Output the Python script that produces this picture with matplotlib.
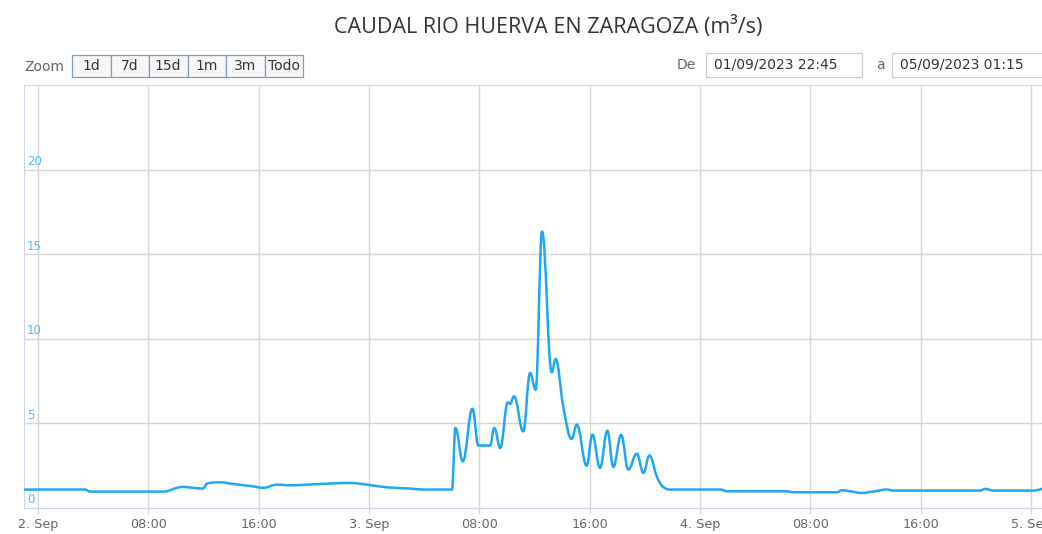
import numpy as np
import pandas as pd
import matplotlib
matplotlib.use('Agg')
import matplotlib.pyplot as plt
import matplotlib.dates as mdates
from matplotlib.patches import Rectangle, PathPatch
from matplotlib.path import Path

W, H = 1042, 534

# caudal (m3/s)
times = [
    '2023-09-01 22:45', '2023-09-02 03:25', '2023-09-02 03:45', '2023-09-02 09:04',
    '2023-09-02 10:30', '2023-09-02 11:15', '2023-09-02 11:58', '2023-09-02 12:14',
    '2023-09-02 13:12', '2023-09-02 14:08', '2023-09-02 15:35', '2023-09-02 16:19',
    '2023-09-02 17:20', '2023-09-02 18:16', '2023-09-02 19:56', '2023-09-02 22:37',
    '2023-09-02 23:51', '2023-09-03 01:18', '2023-09-03 02:59', '2023-09-03 03:55',
    '2023-09-03 06:01', '2023-09-03 06:16', '2023-09-03 06:48', '2023-09-03 07:30',
    '2023-09-03 07:56', '2023-09-03 08:47', '2023-09-03 09:05', '2023-09-03 09:31',
    '2023-09-03 10:04', '2023-09-03 10:14', '2023-09-03 10:31', '2023-09-03 11:11',
    '2023-09-03 11:41', '2023-09-03 12:05', '2023-09-03 12:33', '2023-09-03 13:15',
    '2023-09-03 13:32', '2023-09-03 14:05', '2023-09-03 14:42', '2023-09-03 15:04',
    '2023-09-03 15:47', '2023-09-03 16:12', '2023-09-03 16:45', '2023-09-03 17:17',
    '2023-09-03 17:43', '2023-09-03 18:17', '2023-09-03 18:48', '2023-09-03 19:25',
    '2023-09-03 19:54', '2023-09-03 20:20', '2023-09-03 20:52', '2023-09-03 21:14',
    '2023-09-03 21:35', '2023-09-03 21:50', '2023-09-04 01:30', '2023-09-04 01:58',
    '2023-09-04 06:20', '2023-09-04 06:45',
    '2023-09-04 09:56', '2023-09-04 10:18', '2023-09-04 10:53', '2023-09-04 11:45',
    '2023-09-04 12:33', '2023-09-04 13:34', '2023-09-04 14:00', '2023-09-04 20:19',
    '2023-09-04 20:40', '2023-09-04 21:15', '2023-09-05 00:09', '2023-09-05 01:15',
]
caudal = [
    1.09, 1.09, 0.97, 0.97,
    1.25, 1.19, 1.15, 1.44,
    1.52, 1.42, 1.28, 1.19,
    1.38, 1.34, 1.40, 1.48,
    1.38, 1.22, 1.15, 1.09,
    1.09, 4.73, 2.76, 5.87,
    3.69, 3.69, 4.73, 3.55,
    6.24, 6.15, 6.60, 4.53,
    7.98, 6.99, 16.34, 8.02,
    8.81, 6.00, 4.08, 4.93,
    2.50, 4.34, 2.37, 4.57,
    2.43, 4.32, 2.27, 3.21,
    2.07, 3.10, 1.87, 1.32,
    1.13, 1.09, 1.09, 0.99,
    0.99, 0.93,
    0.93, 1.05, 0.99, 0.89,
    0.97, 1.09, 1.03, 1.03,
    1.13, 1.03, 1.03, 1.25,
]

tick_times = pd.date_range('2023-09-02 00:00', '2023-09-05 00:00', freq='8h')
tick_labels = ['2. Sep', '08:00', '16:00', '3. Sep', '08:00', '16:00',
               '4. Sep', '08:00', '16:00', '5. Sep']
y_ticks = [0, 5, 10, 15, 20]


def spline_path(xs, ys, smoothing=1.5):
    # curva tipo "spline" de highcharts: beziers entre los puntos medidos
    n = len(xs)
    lc = [(xs[0], ys[0])] * n
    rc = [(xs[-1], ys[-1])] * n
    for i in range(n):
        if i == 0 or i == n - 1:
            lc[i] = rc[i] = (xs[i], ys[i])
            continue
        d = smoothing + 1
        lx = (smoothing * xs[i] + xs[i - 1]) / d
        ly = (smoothing * ys[i] + ys[i - 1]) / d
        rx = (smoothing * xs[i] + xs[i + 1]) / d
        ry = (smoothing * ys[i] + ys[i + 1]) / d
        if rx != lx:
            corr = ((ry - ly) * (rx - xs[i])) / (rx - lx) + ys[i] - ry
            ly += corr
            ry += corr
        if ly > max(ys[i - 1], ys[i]):
            ly = max(ys[i - 1], ys[i])
            ry = 2 * ys[i] - ly
        elif ly < min(ys[i - 1], ys[i]):
            ly = min(ys[i - 1], ys[i])
            ry = 2 * ys[i] - ly
        if ry > max(ys[i + 1], ys[i]):
            ry = max(ys[i + 1], ys[i])
            ly = 2 * ys[i] - ry
        elif ry < min(ys[i + 1], ys[i]):
            ry = min(ys[i + 1], ys[i])
            ly = 2 * ys[i] - ry
        lc[i] = (lx, ly)
        rc[i] = (rx, ry)
    verts = [(xs[0], ys[0])]
    codes = [Path.MOVETO]
    for i in range(1, n):
        verts += [rc[i - 1], lc[i], (xs[i], ys[i])]
        codes += [Path.CURVE4] * 3
    return Path(verts, codes)


t = mdates.date2num(pd.to_datetime(times))

fig = plt.figure(figsize=(W / 100, H / 100), dpi=100)


def fx(x):
    return x / W


def fy(y):
    return 1 - y / H


ax = fig.add_axes([fx(24), fy(508), fx(1042) - fx(24), fy(85) - fy(508)])
ax.add_patch(PathPatch(spline_path(list(t), caudal), fill=False, edgecolor='#1ea7f5',
                       lw=1.8, joinstyle='round', zorder=3))

ax.xaxis_date()
ax.set_xlim(pd.Timestamp('2023-09-01 22:59'), pd.Timestamp('2023-09-05 00:48'))
ax.set_ylim(0, 25)
ax.set_xticks(tick_times)
ax.set_xticklabels(tick_labels)
ax.set_yticks([5, 10, 15, 20, 25])
ax.set_yticklabels([])
ax.grid(True, color='#d6d6d6', lw=1)
ax.tick_params(axis='x', length=4, color='#ccd6eb', labelsize=9.2, labelcolor='#666666', pad=3)
ax.tick_params(axis='y', length=0)
for s in ['top', 'right']:
    ax.spines[s].set_visible(False)
ax.spines['left'].set_color('#ccd6eb')
ax.spines['bottom'].set_color('#ccd6eb')

for v in y_ticks:
    ax.text(0.003, v + 0.1, str(v), transform=ax.get_yaxis_transform(),
            color='#4db8ff', fontsize=8.5, ha='left', va='bottom')

# titulo
fig.text(fx(548), fy(27), 'CAUDAL RIO HUERVA EN ZARAGOZA (m³/s)', ha='center', va='center',
         fontsize=15.5, color='#333333', family='Open Sans')

# botones de zoom
fig.text(fx(24), fy(67), 'Zoom', ha='left', va='center', fontsize=10, color='#666666')
buttons = ['1d', '7d', '15d', '1m', '3m', 'Todo']
bx = 72
for b in buttons:
    fig.add_artist(Rectangle((fx(bx), fy(77)), fx(38.5), fy(55) - fy(77), transform=fig.transFigure,
                             facecolor='#f7f7f7', edgecolor='#7d9ec0', lw=0.9))
    fig.text(fx(bx + 19), fy(66), b, ha='center', va='center', fontsize=10, color='#333333')
    bx += 38.5

# rango de fechas
fig.text(fx(686), fy(65), 'De', ha='center', va='center', fontsize=10, color='#666666')
fig.add_artist(Rectangle((fx(706), fy(77)), fx(156), fy(53) - fy(77), transform=fig.transFigure,
                         facecolor='white', edgecolor='#cccccc', lw=0.9))
fig.text(fx(714), fy(65), '01/09/2023 22:45', ha='left', va='center', fontsize=10, color='#333333')
fig.text(fx(880), fy(65), 'a', ha='center', va='center', fontsize=10, color='#666666')
fig.add_artist(Rectangle((fx(892), fy(77)), fx(160), fy(53) - fy(77), transform=fig.transFigure,
                         facecolor='white', edgecolor='#cccccc', lw=0.9))
fig.text(fx(900), fy(65), '05/09/2023 01:15', ha='left', va='center', fontsize=10, color='#333333')

fig.savefig('out.png', dpi=100)
